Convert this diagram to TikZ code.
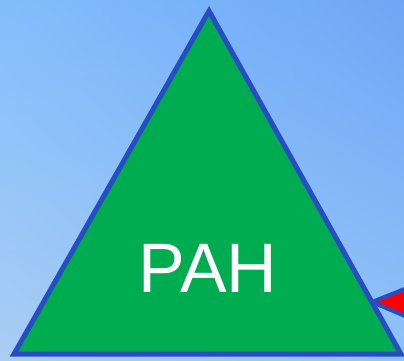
\documentclass[tikz,border=0pt]{standalone}
\usepackage{fontspec}
\setmainfont{Liberation Sans}
\usetikzlibrary{shadings}
\definecolor{bgUL}{RGB}{130,190,252}
\definecolor{bgUR}{RGB}{110,166,246}
\definecolor{bgLL}{RGB}{170,205,244}
\definecolor{bgLR}{RGB}{145,195,248}
\definecolor{pahgreen}{RGB}{0,172,80}
\definecolor{pahblue}{RGB}{40,76,196}
\definecolor{arrowred}{RGB}{255,0,0}
\tikzset{
  pahtri/.style={fill=pahgreen, draw=pahblue, line width=5pt, line join=miter},
  redwedge/.style={fill=arrowred, draw=pahblue, line width=4pt, line join=miter},
  pahlabel/.style={text=white, font=\fontsize{70}{70}\selectfont, inner sep=0pt}
}
\begin{document}
\begin{tikzpicture}[x=1pt,y=-1pt]
\useasboundingbox (0,0) rectangle (404,361);
\shade[upper left=bgUL, upper right=bgUR, lower left=bgLL, lower right=bgLR] (0,0) rectangle (404,361);
\coordinate (tip) at (372,302);
\coordinate (wtop) at (412,286);
\coordinate (wbot) at (412,319);
\draw[redwedge] (tip) -- (wtop) -- (wbot) -- cycle;
\coordinate (apex) at (209,11);
\coordinate (bl) at (14,354);
\coordinate (br) at (401,354);
\draw[pahtri] (apex) -- (br) -- (bl) -- cycle;
\node[pahlabel] (pah) at (208,268) {PAH};
\end{tikzpicture}
\end{document}
